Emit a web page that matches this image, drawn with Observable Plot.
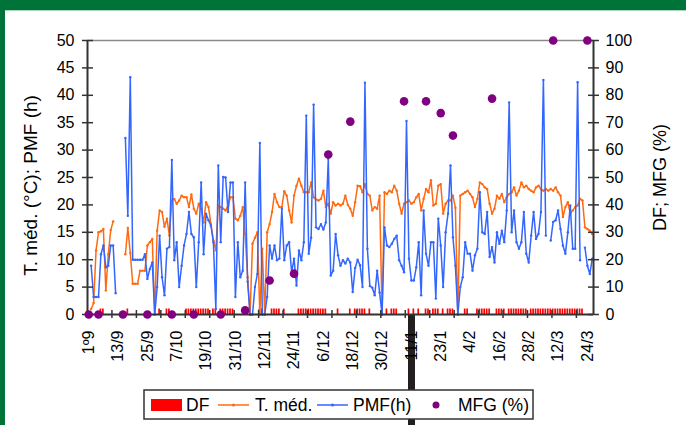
<!DOCTYPE html>
<html>
<head>
<meta charset="utf-8">
<script src="https://cdn.jsdelivr.net/npm/d3@7"></script>
<script src="https://cdn.jsdelivr.net/npm/@observablehq/plot@0.6"></script>
<style>
  body { margin: 0; background: #fff; }
  #wrap { position: relative; width: 686px; height: 425px; overflow: hidden; background: #fff;
          font-family: "Liberation Sans", Arial, sans-serif; }
  #bar { position: absolute; left: 408px; top: 314px; width: 7px; height: 111px; background: #231f20; }
  #chart { position: absolute; left: 0; top: 0; }
  #legend { position: absolute; left: 143px; top: 389px; }
  #topband { position: absolute; left: 0; top: 0; width: 686px; height: 10px; background: #007338;
             border-bottom: 1px solid #a8d8bc; }
  #leftband { position: absolute; left: 0; top: 0; width: 5px; height: 425px; background: #007338; }
</style>
</head>
<body>
<div id="wrap">
  <div id="bar"></div>
  <div id="chart"></div>
  <div id="legend"></div>
  <div id="topband"></div>
  <div id="leftband"></div>
</div>
<script>
// ---- data (one value per day, 1 Sep .. 26 Mar) ----
const xLabels = ["1º9","13/9","25/9","7/10","19/10","31/10","12/11","24/11","6/12","18/12","30/12","11/1","23/1","4/2","16/2","28/2","12/3","24/3"];

const tmed = [null,1.0,2.1,11.7,15,15.2,15.6,4.4,11,15.4,17,null,null,null,null,11,15.8,11.2,5.6,5.6,
  5.6,8,8,8,12.6,13.2,13.8,0,15.3,19,18.7,16,17.5,14.4,20.8,21.1,20.2,20.8,21.7,21.4,
  21.4,19.6,21.9,19.3,18.4,20.2,19.3,16.8,20.5,19.6,16.5,13.5,11.7,19.9,19.6,19.3,19,19.9,21.4,21.4,
  17.5,17.2,18,19.6,14.7,6.8,0,12.9,14,15,0,12,0,15,16.5,18.7,22,20.5,19.6,19.6,
  22.5,21.7,19,16.8,21.7,23.5,24.8,23.5,22.3,22.3,22.3,24.1,21.4,21,20.8,21.1,22.6,19.6,20.2,18.4,
  20.5,19.9,20.2,19.9,20.2,21.7,20,19.3,18,20.5,23.5,23.4,22.3,23.8,22,21.7,19,19.6,19.3,21.7,
  0,22.3,22,22.6,22.3,23.5,22.6,20.2,18.4,20.2,20.5,20.8,20.2,20.5,21.4,22,19,21.1,22.9,22.3,
  24.5,19.9,20.2,23.5,23.8,18.4,20.2,20.8,20.8,21.7,19.5,0,21.7,22,22.3,22.6,22,21.4,19.6,21.1,
  24.1,23.8,23.2,22.9,20.2,18.4,19.3,21.7,21.1,22,20.5,21.4,22,22.3,23.2,21.7,22.6,24.1,23.2,23.5,
  22.9,22.6,22.3,23.2,23.5,22.9,22.6,22.9,22.6,22.9,22.6,23.2,22.3,21.7,17.8,19.6,20.5,18.4,19,19.6,
  19.9,21.1,20.8,15.9,15.6,15.3,14.7];

const pmf = [null,8.9,3.2,3.2,3.2,11,12.6,8.6,8.9,12.6,12.6,3.9,null,null,null,32.2,18,43.3,10,10,
  10,10,10,11,6.5,8.3,9.5,0,5,14.4,6.8,3.5,12,12.3,28.2,9.9,13.2,5,8.9,12.6,
  14.7,18.7,14.7,14.1,5,13.2,24.1,11,18.4,17.2,16.2,13.2,1,27.2,13.2,25.1,25,18.7,24.1,24.1,
  3.2,13.2,6.8,8,24.1,6,0,0,5,7.4,31.3,0,0,3.2,12.6,10.2,12.6,9.9,10.2,19.3,
  9.9,12.6,13.2,7.7,10.2,5.3,11.7,9.9,13.2,36.3,11.1,14,38.3,15.9,15.6,16.5,15.5,16.8,28.4,7.1,
  8,14.7,10.8,8.9,9.9,9.3,10.2,9.5,4.1,8.5,10,9,5,42.3,12,5.2,4.9,3.5,8,4,
  0,15.9,12.6,12.3,12.9,13.8,14.4,9.9,8.9,7.7,35.3,10.2,6.2,6.2,8.6,13.2,3.5,19,11.1,8.9,
  13.2,13.2,2.9,17.5,12.6,5,15,18.4,27.2,14.1,8.9,0,5,6.8,13.2,11.1,11.1,8,10.8,12,
  22.3,15,14.7,18.7,10.5,12.3,9.5,15,12.9,15.3,13.2,19,38.7,15,19,13.2,12,13.2,18.7,11.1,
  9.5,14.4,18.7,13.8,14.7,18.7,42.8,14.4,null,13.5,16.9,17.2,19,15.6,12.6,11.1,15,19.9,12,12,
  42.4,9.9,null,12.2,8.9,7.4,10.2];

// MFG (%) — right axis
const mfgDays = [0,4,14,24,34,43,54,64,74,84,98,107,129,138,144,149,165,190,204];
const mfgVals = [0,0,0,0,0,0,0,1.5,12.4,14.9,58.4,70.4,77.8,77.8,73.5,65.3,78.8,100,100];

// DF — days flagged (right axis)
const dfDays = [5,6,16,29,32,33,40,41,42,43,44,45,46,47,48,49,51,52,54,55,56,57,58,59,
  65,70,71,75,76,77,78,80,86,87,88,89,90,91,92,93,94,95,96,97,102,107,109,110,111,112,113,115,
  122,124,125,126,131,133,135,138,139,141,142,143,145,147,148,149,154,155,159,160,161,162,163,164,
  167,168,169,170,172,173,174,175,176,177,178,179,181,182,183,184,185,186,187,188,189,190,191,192,
  193,194,195,196,197,198,199,200,201,202];
const dfValue = 2;

// ---- build ----
const N = tmed.length; // 207 daily categories
const rows = d3.range(N).map(i => ({i, t: tmed[i], p: pmf[i]}));
const mfg = mfgDays.map((d, k) => ({d, v: mfgVals[k]}));
const yTicks = d3.range(0, 51, 5);
const xTickMarks = d3.range(0, N, 10);
const labelPos = xLabels.map((s, k) => k * 12 + 0.5);
const labelMap = new Map(labelPos.map((p, k) => [p, xLabels[k]]));
const cx = d => d.i + 0.5;

const axisColor = "#333";
const chart = Plot.plot({
  width: 686, height: 385,
  marginLeft: 87, marginRight: 93, marginTop: 40, marginBottom: 71,
  style: {background: "transparent", fontFamily: "'Liberation Sans', Arial, sans-serif", color: "#000"},
  x: {domain: [0, N]},
  y: {domain: [0, 50]},
  marks: [
    Plot.ruleY([50], {stroke: "#8a8a8a", strokeWidth: 1.5}),
    Plot.rectY(dfDays, {x1: d => d + 0.15, x2: d => d + 0.85, y1: 0, y2: dfValue / 2, fill: "#ff0000"}),
    Plot.line(rows, {x: cx, y: "t", stroke: "#ff6a10", strokeWidth: 1.5}),
    Plot.dot(rows.filter(d => d.t != null), {x: cx, y: "t", r: 1.2, fill: "#ff6a10"}),
    Plot.line(rows, {x: cx, y: "p", stroke: "#3366ff", strokeWidth: 1.5}),
    Plot.dot(rows.filter(d => d.p != null), {x: cx, y: "p", r: 1.2, fill: "#3366ff"}),
    Plot.ruleX([0, N], {y1: 0, y2: 50, stroke: axisColor, strokeWidth: 2}),
    Plot.ruleY([0], {stroke: axisColor, strokeWidth: 2}),
    Plot.ruleY(yTicks, {y: d => d, x1: 0, x2: 0, insetLeft: -5, insetRight: -6, stroke: axisColor, strokeWidth: 1.5}),
    Plot.ruleY(yTicks, {y: d => d, x1: N, x2: N, insetLeft: -5, insetRight: -6, stroke: axisColor, strokeWidth: 1.5}),
    Plot.ruleX(xTickMarks, {x: d => d, y1: 0, y2: 0, insetTop: -4, insetBottom: -4, stroke: axisColor, strokeWidth: 1.5}),
    Plot.dot(mfg, {x: d => d.d + 0.5, y: d => d.v / 2, r: 4.3, fill: "#800080"}),
    Plot.axisY(yTicks, {anchor: "left", tickSize: 0, tickPadding: 13, fontSize: 16, label: null}),
    Plot.axisY(yTicks, {anchor: "right", tickSize: 0, tickPadding: 12, fontSize: 16, label: null, tickFormat: d => d * 2}),
    Plot.axisX(labelPos, {anchor: "bottom", tickSize: 0, tickPadding: 16, tickRotate: -90, fontSize: 16, label: null, tickFormat: d => labelMap.get(d)}),
    Plot.text(["T. méd. (°C); PMF (h)"], {frameAnchor: "left", dx: -57, dy: 8, rotate: -90, textAnchor: "middle", fontSize: 19}),
    Plot.text(["DF; MFG (%)"], {frameAnchor: "right", dx: 67, rotate: -90, textAnchor: "middle", fontSize: 18})
  ]
});
document.getElementById("chart").appendChild(chart);

// ---- legend ----
const legendItems = [
  {label: "DF", kind: "rect", color: "#ff0000", sx: 8, tx: 43},
  {label: "T. méd.", kind: "line", color: "#ff6a10", sx: 75, tx: 112},
  {label: "PMF(h)", kind: "line", color: "#3366ff", sx: 174, tx: 210},
  {label: "MFG (%)", kind: "dot", color: "#800080", sx: 293, tx: 315}
];
const lg = d3.select("#legend").append("svg").attr("width", 392).attr("height", 32);
lg.append("rect").attr("x", 1).attr("y", 1).attr("width", 389).attr("height", 29)
  .attr("fill", "#fff").attr("stroke", "#333").attr("stroke-width", 1.5);
for (const it of legendItems) {
  if (it.kind === "rect") lg.append("rect").attr("x", it.sx).attr("y", 10).attr("width", 31).attr("height", 12).attr("fill", it.color);
  if (it.kind === "line") {
    lg.append("line").attr("x1", it.sx).attr("x2", it.sx + 31).attr("y1", 16).attr("y2", 16).attr("stroke", it.color).attr("stroke-width", 1.5);
    lg.append("circle").attr("cx", it.sx + 15.5).attr("cy", 16).attr("r", 1.5).attr("fill", it.color);
  }
  if (it.kind === "dot") lg.append("circle").attr("cx", it.sx).attr("cy", 16).attr("r", 3.5).attr("fill", it.color);
  lg.append("text").attr("x", it.tx).attr("y", 22).attr("font-size", 17.5)
    .attr("font-family", "'Liberation Sans', Arial, sans-serif").attr("fill", "#000").text(it.label);
}
</script>
</body>
</html>
